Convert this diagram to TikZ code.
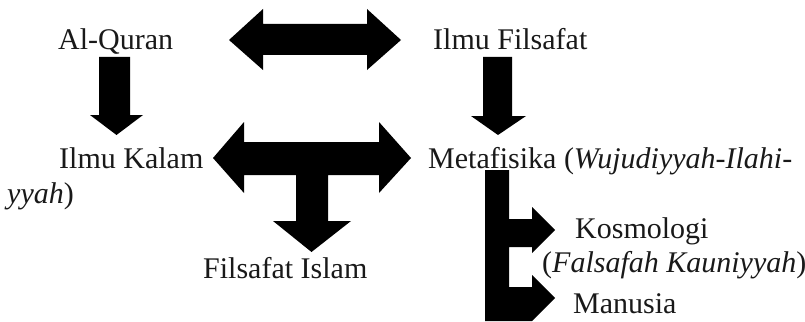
\documentclass[tikz,border=0pt]{standalone}
\usepackage{fontspec}
\setmainfont{Liberation Serif}
\begin{document}
\begin{tikzpicture}[x=1pt,y=-1pt,
  lbl/.style={inner sep=0pt,anchor=base west,font=\fontsize{30}{34}\selectfont,text=black!90},
  blk/.style={fill=black,draw=none}]
\useasboundingbox (0,0) rectangle (805,321);
\clip (0,0) rectangle (805,321);
% texts
\node[lbl] (quran) at (58,50) {Al-Quran};
\node[lbl] (filsafat) at (433,50) {Ilmu Filsafat};
\node[lbl] (kalam) at (59,168) {Ilmu Kalam};
\node[lbl] (meta) at (428,168) {Metafisika (\textit{Wujudiyyah-Ilahi-}};
\node[lbl] (meta2) at (7,203) {\textit{yyah})};
\node[lbl] (islam) at (203,278) {Filsafat Islam};
\node[lbl] (kosmo) at (575,238) {Kosmologi};
\node[lbl] (kosmo2) at (542,272) {(\textit{Falsafah Kauniyyah})};
\node[lbl] (manusia) at (573,313) {Manusia};
% top double arrow
\fill[blk] (229,40) -- (263,9) -- (263,24) -- (367,24) -- (367,9) -- (401,40)
  -- (367,70) -- (367,55) -- (263,55) -- (263,70) -- cycle;
% Al-Quran down arrow
\fill[blk] (99,57) -- (130,57) -- (130,115) -- (143,115) -- (116.5,135)
  -- (90,115) -- (99,115) -- cycle;
% Ilmu Filsafat down arrow
\fill[blk] (483,57) -- (512,57) -- (512,116) -- (526,116) -- (498,135)
  -- (471,116) -- (483,116) -- cycle;
% T arrow
\fill[blk] (213,158) -- (244,122) -- (244,142) -- (379,142) -- (379,122) -- (411,158)
  -- (379,193) -- (379,175) -- (328,175) -- (328,221) -- (351,221) -- (311.5,252)
  -- (273,221) -- (296,221) -- (296,175) -- (244,175) -- (244,193) -- cycle;
% E arrow
\fill[blk] (485,170) -- (509,170) -- (509,219) -- (532,219) -- (532,207) -- (555,230)
  -- (532,253) -- (532,247) -- (509,247) -- (509,287) -- (532,287) -- (532,275)
  -- (555,298) -- (532,321) -- (485,321) -- cycle;
\end{tikzpicture}
\end{document}
